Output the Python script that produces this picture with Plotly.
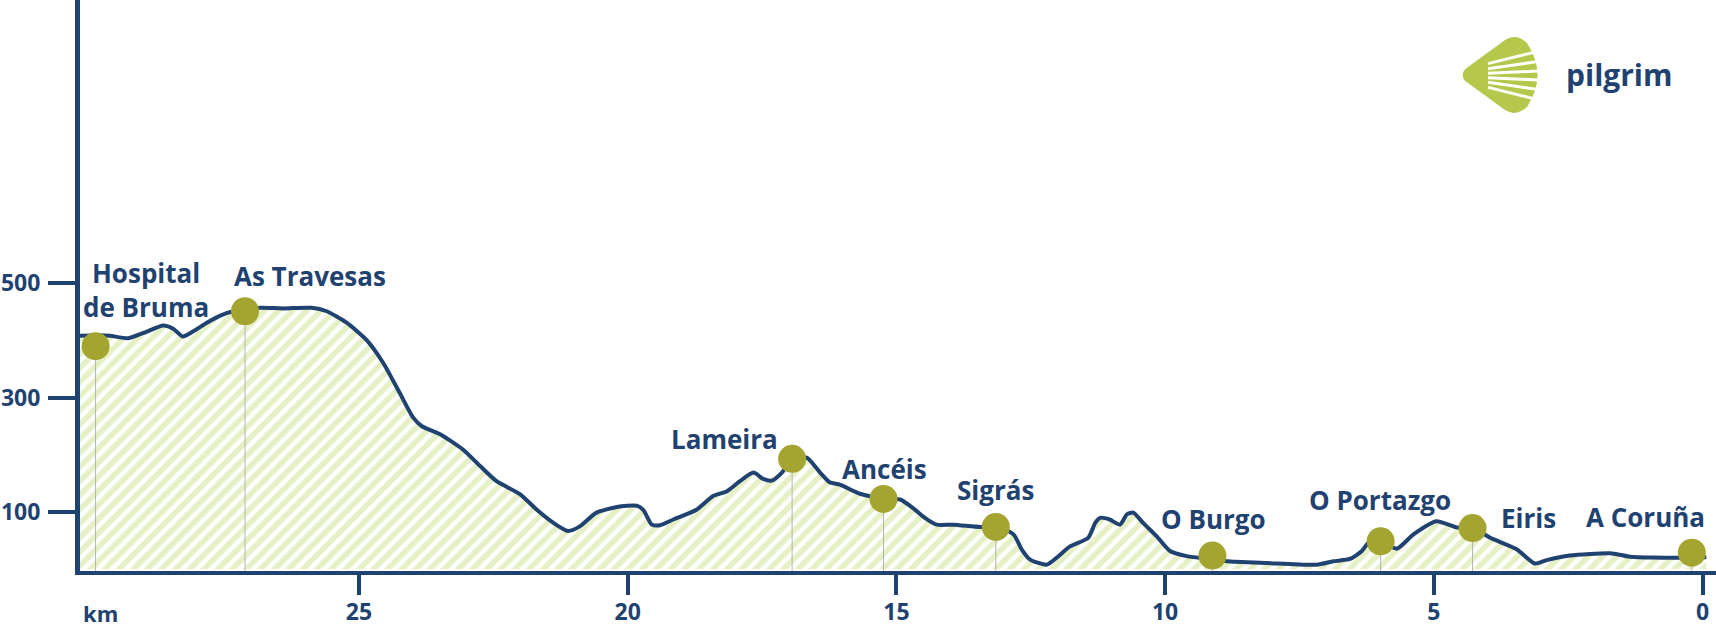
import plotly.graph_objects as go

# ---------------- data ----------------
# elevation profile: distance remaining to A Coruña (km) and elevation (m)
km = [30.19, 29.82, 29.63, 29.29, 29.01, 28.64, 28.45, 28.28, 28.08, 27.83,
      27.59, 27.34, 27.12, 26.84, 26.41, 25.88, 25.60, 25.23, 24.86, 24.55,
      24.24, 23.99, 23.83, 23.49, 23.06, 22.74, 22.44, 22.00, 21.69, 21.38,
      21.11, 20.89, 20.58, 20.20, 19.83, 19.71, 19.55, 19.40, 19.15, 18.72,
      18.41, 18.16, 17.91, 17.66, 17.48, 17.32, 17.13, 16.94, 16.67, 16.42,
      16.24, 16.05, 15.68, 15.24, 14.93, 14.69, 14.47, 14.25, 13.94, 13.44,
      13.13, 12.82, 12.67, 12.51, 12.20, 12.02, 11.77, 11.43, 11.30, 11.21,
      11.03, 10.84, 10.71, 10.59, 10.41, 10.16, 9.91, 9.60, 9.10, 8.85,
      8.11, 7.18, 6.87, 6.56, 6.34, 6.19, 5.99, 5.69, 5.38, 4.95,
      4.57, 4.28, 3.95, 3.46, 3.12, 2.90, 2.47, 1.72, 1.35, 0.48,
      0.21, -0.07]
elev = [408, 409, 408, 404, 413, 426, 420, 407, 416, 431,
        443, 451, 454, 457, 456, 457, 451, 431, 401, 361,
        308, 265, 250, 236, 209, 180, 154, 131, 104, 81,
        67, 75, 99, 109, 111, 104, 78, 77, 87, 104,
        128, 136, 154, 169, 158, 155, 169, 193, 195, 169,
        152, 148, 132, 123, 122, 107, 90, 78, 78, 74,
        75, 61, 35, 17, 8, 20, 40, 55, 81, 90,
        87, 78, 96, 99, 81, 58, 32, 23, 17, 14,
        11, 8, 14, 18, 32, 49, 49, 36, 61, 84,
        73, 73, 55, 35, 10, 16, 24, 28, 22, 20,
        21, 21]

# waypoints
wp_names = ["Hospital<br>de Bruma", "As Travesas", "Lameira", "Ancéis", "Sigrás",
            "O Burgo", "O Portazgo", "Eiris", "A Coruña"]
wp_km = [29.90, 27.12, 16.94, 15.24, 13.15, 9.12, 5.99, 4.28, 0.20]
wp_elev = [390, 451, 193, 123, 74, 24, 49, 72, 29]

x_ticks = [0, 5, 10, 15, 20, 25]
y_ticks = [100, 300, 500]

# ---------------- style ----------------
NAVY = "#1f4271"
OLIVE = "#a3a530"
HATCH = "#cde18b"
LOGO_GREEN = "#b6c84c"
FONT = "Open Sans"
W, H = 1716, 629
ML, MR, MT, MB = 80, 0, 0, 58
X_RANGE = [30.19, -0.25]
Y_RANGE = [-3, 995]

# label offsets in pixels (dx right, dy up) relative to each waypoint dot
label_offsets = [(50, 56), (65, 35), (-68, 20), (1, 30), (0, 37),
                 (1, 37), (-1, 41), (56, 10), (-46, 36)]

fig = go.Figure()

# hatched elevation area + outline
fig.add_trace(go.Scatter(
    x=km, y=elev, mode="lines",
    line=dict(color=NAVY, width=4, shape="spline", smoothing=0.6),
    fill="tozeroy",
    fillcolor="rgba(0,0,0,0)",
    fillpattern=dict(shape="/", fgcolor=HATCH, bgcolor="white", size=10, solidity=0.55),
    hoverinfo="skip",
))

# thin drop lines from each waypoint to the axis
dx, dy = [], []
for k, v in zip(wp_km, wp_elev):
    dx += [k, k, None]
    dy += [v, Y_RANGE[0], None]
fig.add_trace(go.Scatter(x=dx, y=dy, mode="lines",
                         line=dict(color="#b4b4b4", width=1), hoverinfo="skip"))

# waypoint dots
fig.add_trace(go.Scatter(x=wp_km, y=wp_elev, mode="markers",
                         marker=dict(size=28, color=OLIVE, line=dict(width=0)),
                         hoverinfo="skip"))

# waypoint labels
for name, k, v, (ox, oy) in zip(wp_names, wp_km, wp_elev, label_offsets):
    fig.add_annotation(x=k, y=v, text=name, showarrow=False,
                       xshift=ox, yshift=oy, xanchor="center", yanchor="middle",
                       align="center",
                       font=dict(family=FONT, size=26, color=NAVY, weight="bold"))

pw, ph = W - ML - MR, H - MT - MB

# "km" axis caption
fig.add_annotation(xref="paper", yref="paper", x=1 / pw, y=-(613 - ph) / ph,
                   text="km", showarrow=False, xanchor="left", yanchor="middle",
                   font=dict(family=FONT, size=22, color=NAVY, weight="bold"))

# ---------------- logo ----------------
def P(X, Y):
    return f"{(X - ML) / pw:.5f},{(ph - (Y - MT)) / ph:.5f}"

body = (f"M {P(1463, 75)} Q {P(1462, 71)} {P(1468, 67)} "
        f"L {P(1505, 40)} Q {P(1516, 33)} {P(1527, 43)} "
        f"Q {P(1548, 75)} {P(1527, 107)} "
        f"Q {P(1516, 117)} {P(1505, 110)} "
        f"L {P(1468, 83)} Q {P(1462, 79)} {P(1463, 75)} Z")
fig.add_shape(type="path", path=body, xref="paper", yref="paper",
              fillcolor=LOGO_GREEN, line=dict(width=0), layer="above")
for d in [-24.7, -14.2, -4.6, 4.6, 14.2, 24.7]:
    y0 = 75.5 + d * 0.48
    y1 = 75.5 + d * 1.12
    fig.add_shape(type="path", path=f"M {P(1488, y0)} L {P(1552, y1)}",
                  xref="paper", yref="paper", line=dict(color="white", width=3),
                  layer="above")
fig.add_annotation(xref="paper", yref="paper", x=(1564 - ML) / pw, y=(ph - 74) / ph,
                   text="pilgrim", showarrow=False, xanchor="left", yanchor="middle",
                   font=dict(family=FONT, size=30, color=NAVY, weight="bold"))

# ---------------- axes ----------------
fig.update_xaxes(range=X_RANGE, tickvals=x_ticks, ticktext=[str(t) for t in x_ticks],
                 ticks="outside", ticklen=20, tickwidth=4, tickcolor=NAVY,
                 showline=True, linewidth=4, linecolor=NAVY, automargin=False,
                 showgrid=False, zeroline=False, ticklabelstandoff=-3,
                 tickfont=dict(family=FONT, size=23, color=NAVY, weight="bold"))
fig.update_yaxes(range=Y_RANGE, tickvals=y_ticks,
                 ticks="outside", ticklen=27, tickwidth=4, tickcolor=NAVY,
                 showline=True, linewidth=5, linecolor=NAVY, automargin=False,
                 showgrid=False, zeroline=False, ticklabelstandoff=3,
                 tickfont=dict(family=FONT, size=23, color=NAVY, weight="bold"))

fig.update_layout(width=W, height=H, margin=dict(l=ML, r=MR, t=MT, b=MB),
                  plot_bgcolor="white", paper_bgcolor="white", showlegend=False)

fig.write_html("out.html", config={"displayModeBar": False},
               post_script="document.body.style.margin='0px';document.body.style.overflow='hidden';")
